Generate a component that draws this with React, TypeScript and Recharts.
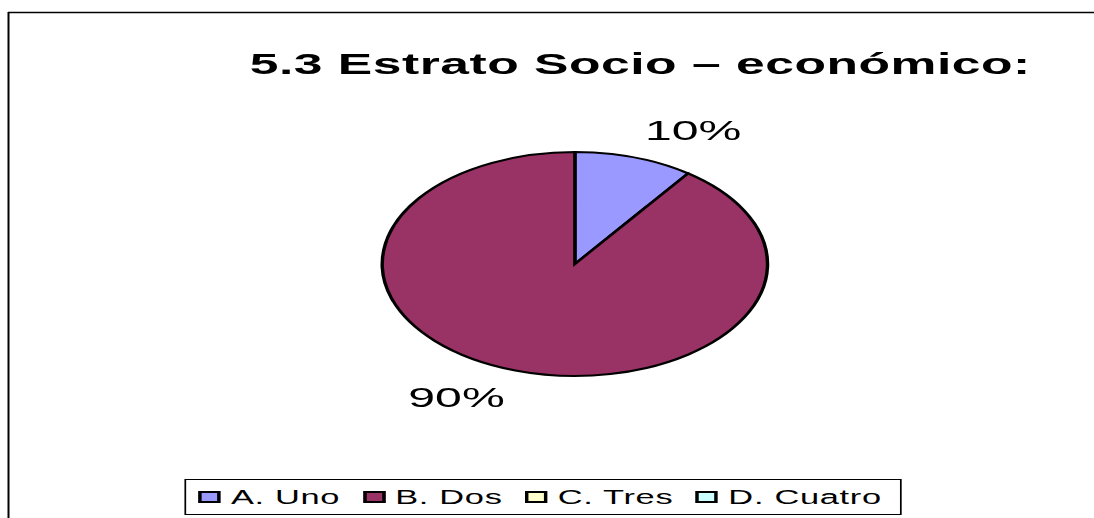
import React from 'react';
import { PieChart, Pie, Cell, Legend } from 'recharts';

const categories = ['A. Uno', 'B. Dos', 'C. Tres', 'D. Cuatro'];
const values = [10, 90, 0, 0];
const colors = ['#9999FF', '#993366', '#FFFFCC', '#CCFFFF'];
const title = '5.3 Estrato Socio – económico:';

const data = categories.map((name, i) => ({ name, value: values[i] }));

const FONT = '"Liberation Sans", Arial, sans-serif';
const STRETCH = 1.72;
const RADIAN = Math.PI / 180;

function renderLabel(props: any) {
  const { cx, cy, midAngle, value, percent } = props;
  if (!value) return null;
  const r = 132;
  const x = cx + r * Math.cos(-midAngle * RADIAN);
  const y = cy + r * Math.sin(-midAngle * RADIAN);
  const right = x > cx;
  const below = y > cy;
  return (
    <text
      x={x}
      y={below ? y + 17 : y + 2}
      textAnchor={right ? 'start' : 'end'}
      fill="#000"
      fontSize={28}
      fontFamily={FONT}
    >
      {`${Math.round(percent * 100)}%`}
    </text>
  );
}

function LegendBox(props: any) {
  const { payload } = props;
  return (
    <div
      style={{
        boxSizing: 'border-box',
        height: 36,
        width: 417,
        border: '1px solid #000',
        display: 'flex',
        alignItems: 'center',
        paddingLeft: 7,
        fontFamily: FONT,
        fontSize: 20,
        color: '#000',
        background: '#fff',
      }}
    >
      {(payload || []).map((entry: any, i: number) => (
        <div key={`leg-${i}`} style={{ display: 'flex', alignItems: 'center', marginRight: 13 }}>
          <span
            style={{
              display: 'inline-block',
              boxSizing: 'border-box',
              width: 13,
              height: 12,
              border: '2px solid #000',
              background: entry.color,
              marginRight: 6,
            }}
          />
          <span style={{ lineHeight: '20px', whiteSpace: 'nowrap', letterSpacing: 0.4 }}>{entry.value}</span>
        </div>
      ))}
    </div>
  );
}

export default function App() {
  return (
    <div
      style={{
        position: 'fixed',
        left: 0,
        top: 0,
        width: 1094,
        height: 518,
        overflow: 'hidden',
        background: '#fff',
      }}
    >
      <svg
        width={1094}
        height={518}
        style={{ position: 'absolute', left: 0, top: 0 }}
      >
        <line x1={8.5} y1={12} x2={8.5} y2={518} stroke="#000" strokeWidth={2} />
        <line x1={8} y1={12.5} x2={1094} y2={12.5} stroke="#000" strokeWidth={1.5} />
      </svg>
      <div
        style={{
          position: 'absolute',
          left: 9,
          top: 13,
          width: 630,
          height: 505,
          transform: `scaleX(${STRETCH})`,
          transformOrigin: '0 0',
          overflow: 'hidden',
        }}
      >
        <div
          style={{
            position: 'absolute',
            left: 0,
            top: 36,
            width: 734,
            textAlign: 'center',
            fontFamily: FONT,
            fontWeight: 'bold',
            fontSize: 30,
            lineHeight: '30px',
            letterSpacing: 0.3,
            color: '#000',
            whiteSpace: 'nowrap',
          }}
        >
          {title}
        </div>
        <PieChart width={630} height={505} margin={{ top: 0, right: 0, bottom: 0, left: 0 }}>
          <Pie
            data={data}
            dataKey="value"
            nameKey="name"
            cx={329}
            cy={251}
            outerRadius={112}
            startAngle={90}
            endAngle={-270}
            stroke="#000"
            strokeWidth={2}
            label={renderLabel}
            labelLine={false}
            isAnimationActive={false}
          >
            {data.map((d, i) => (
              <Cell key={`cell-${i}`} fill={colors[i]} />
            ))}
          </Pie>
          <Legend
            content={<LegendBox />}
            wrapperStyle={{ position: 'absolute', left: 102, top: 466, width: 417, height: 36 }}
          />
        </PieChart>
      </div>
    </div>
  );
}
